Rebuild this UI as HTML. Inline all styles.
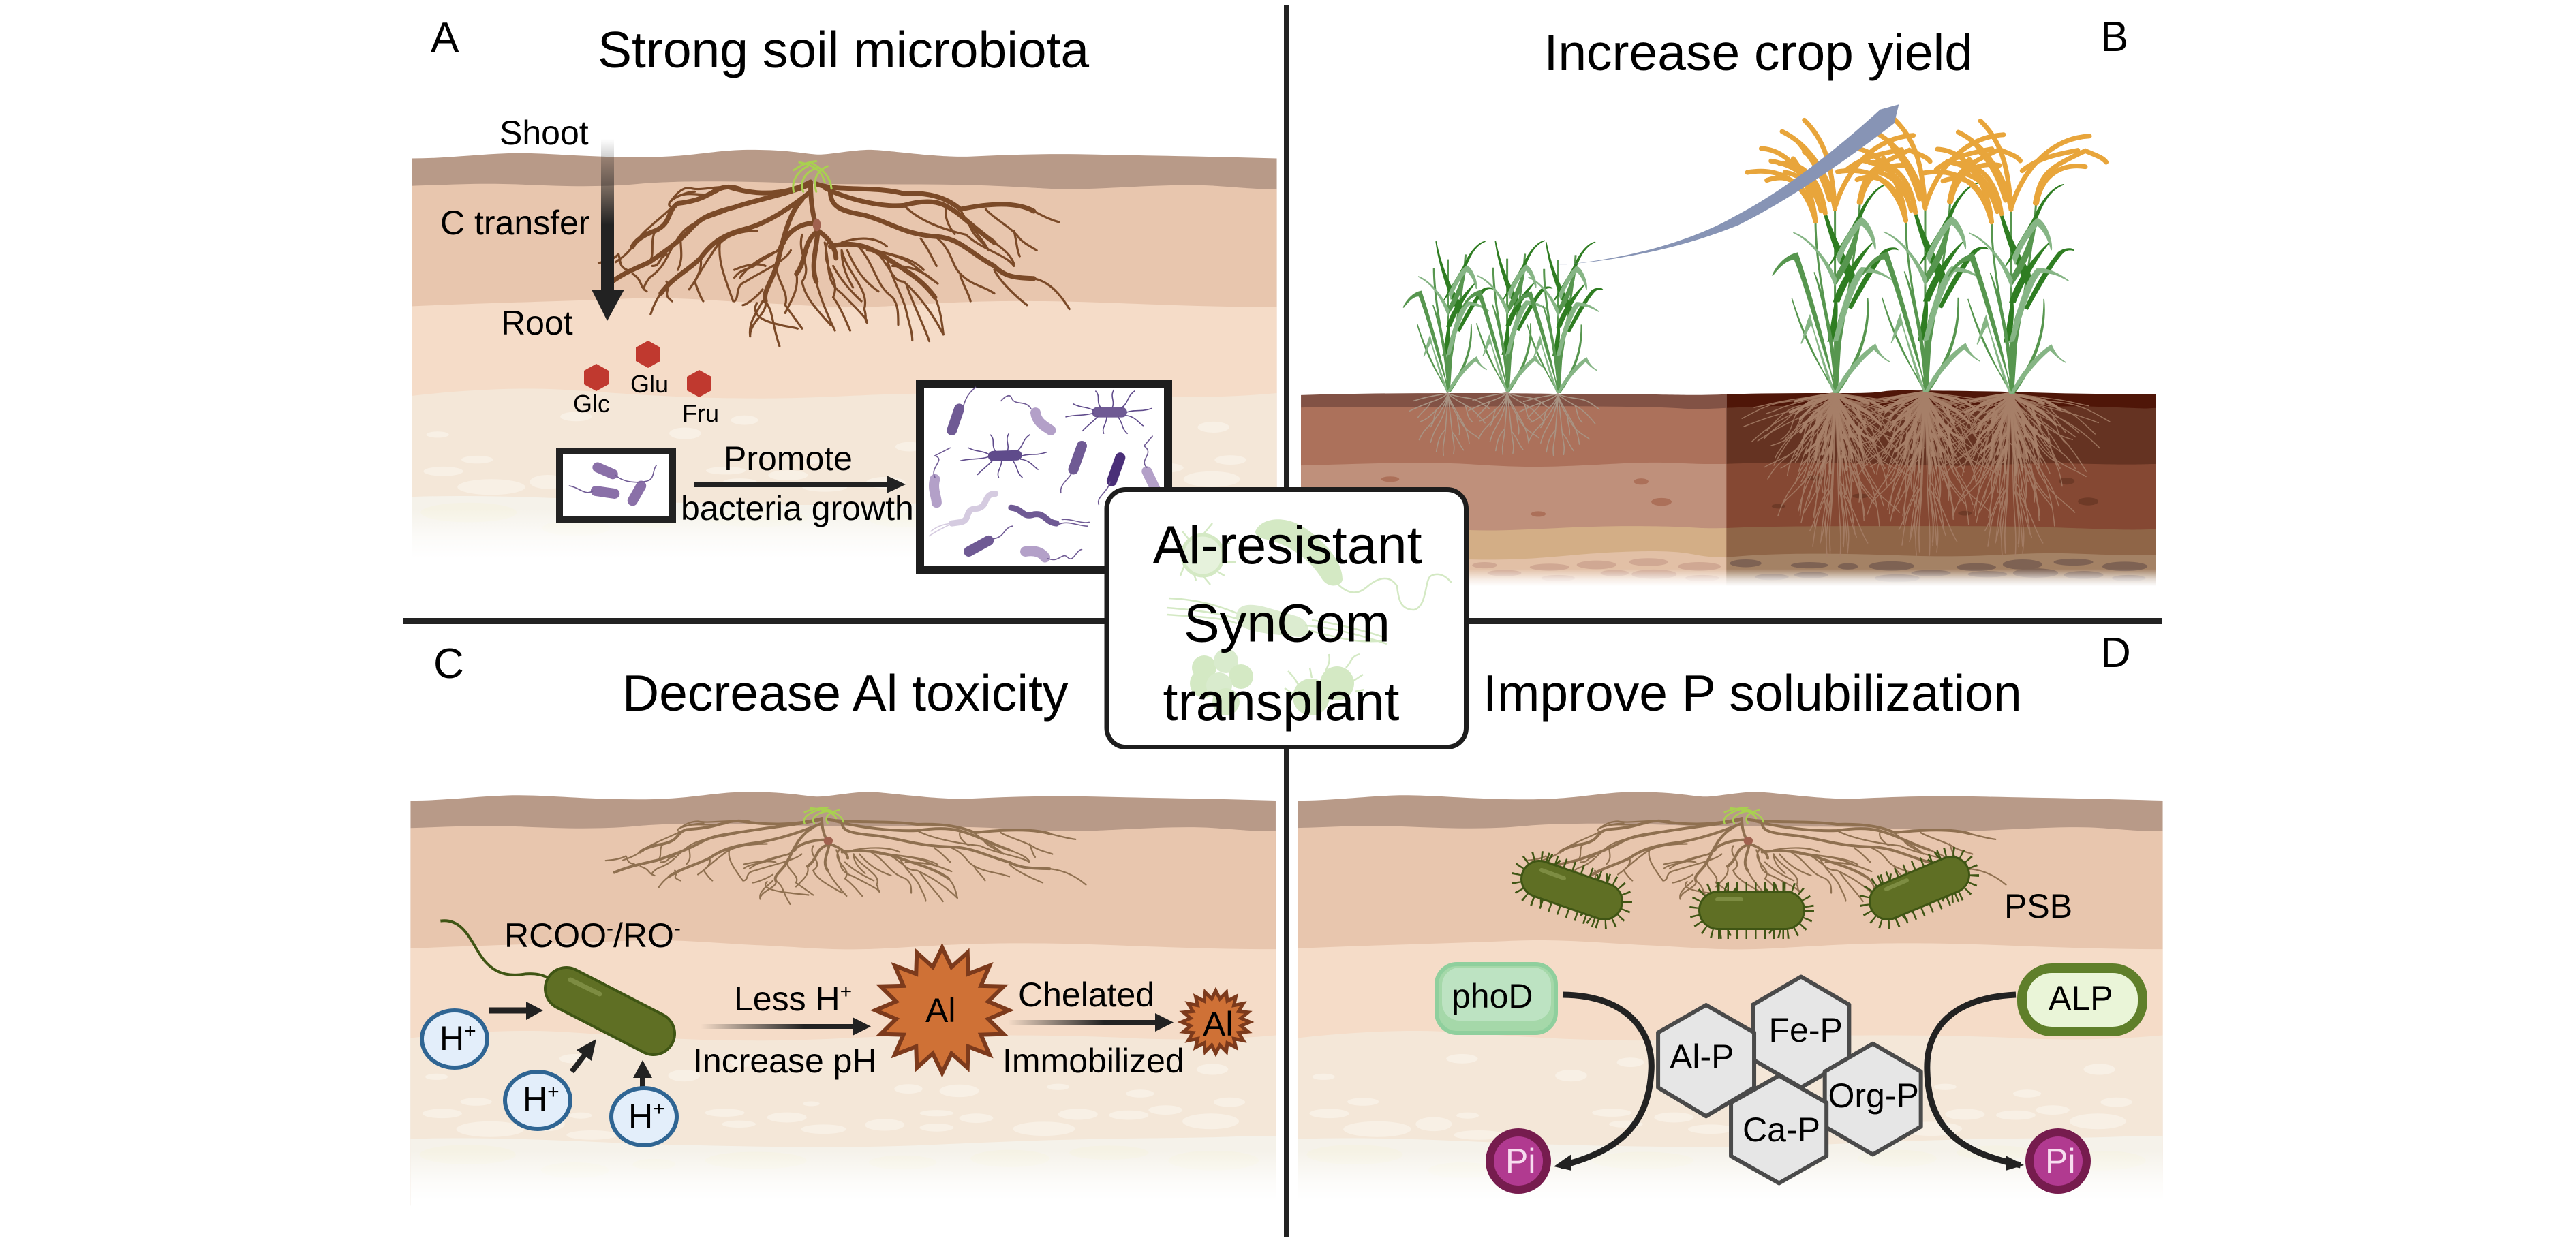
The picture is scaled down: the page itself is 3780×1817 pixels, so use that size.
<!DOCTYPE html>
<html>
<head>
<meta charset="utf-8">
<title>Al-resistant SynCom transplant</title>
<style>
html,body{margin:0;padding:0;background:#fff}
svg{display:block}
svg *{vector-effect:non-scaling-stroke}
text{font-family:"Liberation Sans",sans-serif;fill:#000;vector-effect:none}
.t{font-size:75px}.l{font-size:62px}.m{font-size:50px}.s{font-size:36px}.c{font-size:79px;text-anchor:middle}
</style>
</head>
<body>
<svg width="3780" height="1817" viewBox="0 0 3780 1817" xmlns="http://www.w3.org/2000/svg">
<defs>
<linearGradient id="fade" x1="0" y1="0" x2="0" y2="1"><stop offset="0" stop-color="#fff" stop-opacity="0"/><stop offset=".55" stop-color="#fff" stop-opacity=".72"/><stop offset=".9" stop-color="#fff"/><stop offset="1" stop-color="#fff"/></linearGradient>
<linearGradient id="gC" gradientUnits="userSpaceOnUse" x1="0" y1="204" x2="0" y2="330"><stop offset="0" stop-color="#222" stop-opacity="0"/><stop offset="1" stop-color="#222"/></linearGradient>
<linearGradient id="g1" gradientUnits="userSpaceOnUse" x1="1028" y1="0" x2="1180" y2="0"><stop offset="0" stop-color="#222" stop-opacity="0"/><stop offset="1" stop-color="#222"/></linearGradient>
<linearGradient id="g2" gradientUnits="userSpaceOnUse" x1="1479" y1="0" x2="1620" y2="0"><stop offset="0" stop-color="#222" stop-opacity="0"/><stop offset="1" stop-color="#222"/></linearGradient>
<clipPath id="cl"><rect x="35" y="900" width="753" height="700"/></clipPath>
<clipPath id="cr"><rect x="788" y="900" width="760" height="700"/></clipPath>

<g id="soil">
<path fill="#b89a88" d="M29 405 C90 405 140 395 200 392 S330 402 430 402 S560 383 630 383 S730 395 750 395 S810 383 840 383 S960 404 1020 400 S1150 392 1240 395 S1450 400 1560 405 V1440 H29Z"/>
<path fill="#e8c6ae" d="M29 475 C100 472 150 467 230 472 S370 478 430 470 S600 462 700 468 S950 468 1060 475 S1150 484 1210 483 S1380 468 1450 475 S1530 484 1560 483 V1440 H29Z"/>
<path fill="#f5dcc8" d="M29 783 C150 775 300 770 400 764 S550 768 650 775 S780 790 880 782 S1030 768 1150 770 S1400 785 1560 785 V1440 H29Z"/>
<path fill="#f4e7d8" d="M29 1012 C100 1000 200 990 280 995 S450 1015 600 1018 S800 1008 950 1006 S1200 1005 1300 1012 S1480 1015 1560 1005 V1440 H29Z"/>
<g fill="#f8f0e5">
<ellipse cx="75" cy="1111" rx="20" ry="8"/><ellipse cx="145" cy="1175" rx="28" ry="10"/><ellipse cx="85" cy="1205" rx="35" ry="12"/><ellipse cx="320" cy="1065" rx="28" ry="12"/><ellipse cx="618" cy="1074" rx="24" ry="12"/><ellipse cx="513" cy="1108" rx="28" ry="15"/><ellipse cx="1448" cy="1092" rx="28" ry="14"/><ellipse cx="1478" cy="1176" rx="28" ry="12"/><ellipse cx="1445" cy="1225" rx="50" ry="20"/><ellipse cx="270" cy="1232" rx="32" ry="18"/><ellipse cx="330" cy="1210" rx="20" ry="8"/><ellipse cx="738" cy="1180" rx="15" ry="6"/><ellipse cx="910" cy="1142" rx="25" ry="12"/><ellipse cx="1000" cy="1147" rx="35" ry="16"/><ellipse cx="1175" cy="1137" rx="20" ry="8"/><ellipse cx="1320" cy="1154" rx="25" ry="10"/><ellipse cx="960" cy="1204" rx="30" ry="8"/><ellipse cx="1030" cy="1217" rx="30" ry="12"/><ellipse cx="1210" cy="1207" rx="35" ry="14"/><ellipse cx="1300" cy="1209" rx="35" ry="12"/><ellipse cx="1365" cy="1196" rx="30" ry="12"/><ellipse cx="1150" cy="1244" rx="55" ry="18"/><ellipse cx="868" cy="1234" rx="35" ry="15"/><ellipse cx="960" cy="1241" rx="30" ry="10"/><ellipse cx="585" cy="1203" rx="35" ry="10"/><ellipse cx="695" cy="1215" rx="35" ry="13"/><ellipse cx="610" cy="1232" rx="30" ry="9"/><ellipse cx="760" cy="1245" rx="40" ry="12"/><ellipse cx="170" cy="1245" rx="60" ry="20"/><ellipse cx="350" cy="1260" rx="45" ry="12"/>
</g>
<path fill="#f5f2ea" d="M29 1270 C200 1262 350 1280 500 1285 S800 1295 950 1285 S1200 1270 1350 1268 S1480 1262 1560 1262 V1440 H29Z"/>
<g fill="#f5f2e4">
<ellipse cx="130" cy="1310" rx="85" ry="25"/><ellipse cx="320" cy="1350" rx="60" ry="20"/><ellipse cx="460" cy="1335" rx="38" ry="14"/><ellipse cx="640" cy="1325" rx="90" ry="22"/><ellipse cx="900" cy="1330" rx="60" ry="18"/><ellipse cx="1090" cy="1320" rx="70" ry="22"/><ellipse cx="1265" cy="1305" rx="70" ry="18"/><ellipse cx="1450" cy="1325" rx="80" ry="25"/>
</g>
<rect x="29" y="1300" width="1532" height="141" fill="url(#fade)"/>
</g>

<g id="rootMain" fill="none" stroke-linecap="round">
<path d="M735 465 C690 500 640 500 590 478 C560 480 560 510 500 520 C480 540 490 570 460 590 C440 600 425 615 420 630"/>
<path d="M735 470 C700 495 640 510 600 530 C560 545 540 555 520 590 C500 620 480 640 450 670 C420 690 400 700 375 730"/>
<path d="M735 490 C700 530 660 570 620 585 C580 600 560 620 540 660 C520 690 490 710 470 750"/>
<path d="M735 470 C735 520 740 560 748 590 C770 610 780 640 780 660"/>
<path d="M720 510 C700 540 690 590 680 650 C670 720 650 740 655 770"/>
<path d="M745 570 C710 570 690 600 680 640"/>
<path d="M748 590 C720 620 730 660 710 700"/>
<path d="M748 590 C745 640 735 680 745 720"/>
<path d="M770 630 C810 615 840 630 870 660 C900 690 930 710 955 760"/>
<path d="M770 490 C770 530 790 540 830 550 C880 570 900 600 960 605 C1000 610 1020 650 1060 680 C1080 710 1100 710 1130 712"/>
<path d="M745 470 C780 490 850 475 900 495 C950 490 980 510 1000 535 C1050 520 1100 515 1130 540"/>
<path d="M760 480 C800 510 860 530 900 525 C950 505 970 520 990 540 C1010 560 1030 590 1060 620"/>
</g>
<g id="rootThin" fill="none" stroke-linecap="round">
<path d="M470 750 C460 770 455 790 452 803"/><path d="M575 615 C570 660 580 700 598 770"/><path d="M540 660 C545 690 530 720 520 740"/><path d="M505 610 C505 640 510 660 500 690"/><path d="M490 530 C470 520 510 490 530 490"/><path d="M480 650 C465 660 470 680 455 680"/><path d="M480 720 C490 740 470 750 490 770"/><path d="M420 700 C440 720 430 730 445 745"/><path d="M395 650 C400 670 395 680 410 690"/><path d="M600 478 C560 475 540 490 520 480 C510 480 500 490 490 510"/><path d="M490 530 C460 570 430 600 425 625"/><path d="M460 590 C450 620 460 650 450 670"/>
<path d="M655 770 C660 800 630 820 628 855"/><path d="M680 640 C660 650 630 670 610 710"/><path d="M655 680 C640 670 615 680 600 690"/><path d="M710 700 C715 740 700 770 690 800"/><path d="M745 720 C750 750 760 790 778 845"/><path d="M655 770 C670 800 665 820 680 885"/><path d="M640 775 C630 800 645 820 680 830 C690 835 700 835 712 840"/><path d="M650 740 C640 760 620 780 615 780"/><path d="M760 620 C770 680 760 720 790 750 C810 780 825 800 835 820"/><path d="M775 680 C790 720 810 750 825 770"/><path d="M800 640 C815 690 830 720 855 745"/><path d="M790 640 C790 690 805 720 810 735"/>
<path d="M955 760 C965 790 968 830 970 855"/><path d="M870 660 C880 720 900 760 905 800 C910 830 915 850 915 870"/><path d="M905 730 C920 790 935 830 945 872"/><path d="M830 630 C860 650 910 650 935 690"/><path d="M790 620 C820 605 850 605 870 630"/><path d="M880 680 C910 680 930 690 950 715"/>
<path d="M1130 712 C1160 720 1180 760 1193 790"/><path d="M1130 540 C1150 555 1160 562 1175 568"/><path d="M1060 620 C1080 640 1090 655 1095 675"/><path d="M930 610 C945 640 950 660 958 680"/><path d="M960 610 C985 640 985 680 1000 700 C1020 730 1040 730 1060 750"/><path d="M1000 705 C1005 730 1015 750 1018 770"/><path d="M1060 690 C1070 720 1100 760 1118 780"/><path d="M1045 535 C1060 560 1090 580 1105 610 C1115 625 1125 630 1135 640"/><path d="M975 530 C970 560 985 590 990 598"/><path d="M1015 570 C1020 600 1040 620 1045 630"/><path d="M1095 590 C1100 620 1100 640 1105 655"/>
<path d="M650 770 C640 800 625 820 628 860"/><path d="M690 620 C675 650 650 660 635 680 C620 690 610 690 600 710"/><path d="M700 640 C690 670 640 700 620 720 C600 730 610 760 600 770"/><path d="M680 650 C660 700 700 740 690 780 C700 800 710 820 720 840"/><path d="M720 600 C710 650 740 680 720 720 C725 760 745 790 770 830"/><path d="M765 620 C750 680 790 710 775 760 C790 790 800 830 805 845"/><path d="M790 640 C800 700 840 740 830 790 C835 810 830 820 835 825"/><path d="M820 630 C850 680 850 730 880 760 C890 780 890 800 890 830"/><path d="M850 640 C880 690 880 720 900 720 C930 760 950 800 970 855"/><path d="M880 680 C930 680 945 710 960 725"/><path d="M835 640 C900 650 920 680 935 700"/><path d="M600 530 C560 560 520 560 500 610 C480 650 480 680 450 710 C445 720 440 730 440 740"/><path d="M575 615 C560 650 545 680 530 720 C535 740 540 760 545 770"/><path d="M640 590 C600 590 575 610 560 650"/><path d="M900 525 C930 570 980 590 1010 600 C1040 640 1080 650 1095 680"/><path d="M1000 535 C1010 570 1035 600 1050 640"/><path d="M610 480 C590 470 580 475 570 490 C540 510 520 480 490 510"/><path d="M395 650 C385 665 370 670 360 672"/><path d="M420 630 C410 650 400 660 390 670"/>
</g>
<g id="crown" fill="none" stroke="#a9d050" stroke-linecap="round">
<path d="M705 490 C700 460 715 435 730 425"/><path d="M722 490 C715 465 725 440 745 430"/><path d="M745 490 C740 465 742 440 765 425"/><path d="M772 482 C770 455 760 435 735 415"/><path d="M705 435 C720 420 730 415 745 412"/><path d="M760 465 C755 445 750 425 715 415"/>
</g>

<g id="blades">
<g fill="none" stroke="#57964f" stroke-width="3">
<path d="M0,0 L0,-810"/><path d="M-15,-250 C-40,-400 -70,-600 -70,-755"/><path d="M10,-150 C40,-400 80,-650 90,-840"/>
</g>
<g fill="#2f7d22" stroke="#2f7d22" stroke-width="1.5">
<path d="M-60,-920 C-40,-800 0,-660 65,-540 C80,-480 70,-460 55,-480 C0,-600 -45,-780 -60,-920Z"/>
<path d="M190,-920 C140,-900 110,-830 90,-760 C60,-700 30,-640 -20,-560 C20,-650 60,-720 85,-780 C110,-850 150,-910 190,-920Z"/>
<path d="M50,-375 C90,-480 130,-560 170,-620 C190,-640 220,-640 225,-630 C190,-640 180,-610 155,-570 C120,-500 85,-430 60,-370Z"/>
<path d="M-25,-225 C-10,-300 -5,-380 5,-420 C10,-380 10,-300 -5,-230Z"/>
<path d="M-5,-400 C20,-500 80,-600 135,-660 C90,-590 40,-480 15,-400Z"/>
</g>
<g fill="#57964f" stroke="#57964f" stroke-width="1.5">
<path d="M0,0 C-30,-200 -90,-450 -135,-615 C-175,-605 -210,-560 -225,-515 C-200,-555 -170,-590 -145,-585 C-100,-450 -50,-200 10,0Z"/>
<path d="M0,0 C-60,-120 -120,-280 -155,-415 C-120,-260 -70,-130 8,0Z"/>
<path d="M0,0 C60,-110 120,-220 118,-415 C130,-280 90,-130 12,0Z"/>
<path d="M0,0 C-10,-200 -40,-400 -75,-530 C-30,-400 0,-200 10,0Z"/>
<path d="M-3,0 C-3,-200 0,-300 30,-380 C20,-250 15,-100 8,0Z"/>
<path d="M-5,-500 C30,-570 60,-640 90,-770 C85,-640 50,-560 5,-480Z"/>
</g>
<g fill="#86b585" stroke="#86b585" stroke-width="1.5">
<path d="M0,0 C30,-80 90,-170 145,-212 C160,-170 175,-150 197,-135 C170,-150 150,-180 140,-190 C90,-140 40,-60 8,0Z"/>
<path d="M-5,0 C-40,-100 -70,-240 -90,-340 C-105,-300 -110,-250 -122,-215 C-105,-250 -100,-280 -85,-300 C-55,-200 -30,-90 0,0Z"/>
<path d="M-5,-225 C20,-350 50,-500 95,-550 C140,-550 180,-520 207,-495 C170,-520 140,-535 105,-530 C70,-480 40,-350 10,-230Z"/>
<path d="M5,-500 C-30,-590 -90,-680 -150,-705 C-90,-670 -40,-600 0,-470Z"/>
<path d="M5,-600 C40,-690 70,-750 95,-770 C120,-760 150,-680 145,-630 C135,-680 115,-720 95,-740 C70,-700 40,-660 15,-570Z"/>
</g>
</g>
<g id="panicle" fill="none" stroke="#e8a53b" stroke-width="7" stroke-linecap="round">
<path d="M-70,-755 C-90,-880 -145,-980 -245,-935"/>
<path d="M-70,-755 C-100,-900 -175,-1000 -315,-970"/>
<path d="M-70,-755 C-85,-940 -165,-1070 -265,-1075"/>
<path d="M0,-810 C-25,-980 -105,-1100 -190,-1150"/>
<path d="M0,-810 C-10,-1000 -35,-1110 -110,-1200"/>
<path d="M-35,-790 C-50,-930 -110,-1020 -200,-1010"/>
<path d="M-70,-755 C-85,-850 -100,-950 -150,-1030"/>
<path d="M0,-810 C-10,-900 -50,-1010 -110,-1060"/>
<path d="M-20,-850 C-40,-940 -70,-1010 -130,-1100"/>
<path d="M-50,-800 C-70,-900 -120,-960 -180,-970"/>
<path d="M-60,-850 C-80,-930 -130,-1000 -230,-1020"/>
<path d="M2,-823 C42,-983 142,-1123 282,-1133"/>
<path d="M87,-838 C107,-973 137,-993 267,-1068 C300,-1050 330,-1040 342,-1018"/>
<path d="M92,-838 C112,-973 192,-1013 267,-998"/>
<path d="M40,-980 C90,-1030 150,-1050 240,-1070"/>
</g>
<g id="fan" fill="none" stroke-linecap="round">
<path d="M0,0 C-5,25 -20,45 -40,65 S-70,100 -95,110"/><path d="M0,0 C-12,15 -35,25 -60,35 S-100,50 -135,70"/><path d="M0,0 C-3,30 -8,70 -25,105 S-50,150 -60,190"/><path d="M0,0 C0,40 -5,90 -8,140 S-20,200 -15,240"/><path d="M0,0 C5,40 10,100 15,150 S25,200 20,235"/><path d="M0,0 C5,25 20,50 35,80 S70,140 75,195"/><path d="M0,0 C12,15 35,30 60,45 S105,80 130,115"/><path d="M0,0 C15,10 45,15 75,20 S120,40 145,60"/><path d="M0,0 C-2,35 -25,70 -45,100 S-85,140 -100,180"/><path d="M0,0 C3,35 25,70 45,110 S95,160 110,175"/><path d="M0,0 C-15,5 -40,8 -70,15 S-100,25 -120,30"/><path d="M-40,65 C-50,85 -45,110 -60,130"/><path d="M35,80 C30,110 45,130 40,160"/><path d="M60,45 C70,70 65,90 85,110"/><path d="M-60,35 C-70,60 -90,70 -105,95"/><path d="M-8,140 C-30,165 -35,190 -40,225"/><path d="M15,150 C35,175 40,200 55,220"/>
</g>

<g id="peri" fill="none" stroke="#5f4b8b" stroke-width="1.6">
<path d="M-15,-10 C-25,-30 -15,-40 -25,-55"/><path d="M5,-12 C10,-30 0,-40 8,-58"/><path d="M20,-10 C35,-25 30,-40 45,-55"/><path d="M30,0 C45,-8 55,0 75,-10"/><path d="M28,8 C45,10 50,25 60,35"/><path d="M15,12 C25,30 20,40 32,55"/><path d="M-5,12 C-5,30 -15,40 -10,55"/><path d="M-20,10 C-30,25 -40,35 -48,48"/><path d="M-28,2 C-45,10 -60,5 -78,12"/><path d="M-28,-5 C-40,-15 -50,-10 -65,-22"/>
</g>
<polygon id="s16" points="100,0 69,14 92,38 58,39 71,71 39,58 38,92 14,69 0,100 -14,69 -38,92 -39,58 -71,71 -58,39 -92,38 -69,14 -100,0 -69,-14 -92,-38 -58,-39 -71,-71 -39,-58 -38,-92 -14,-69 0,-100 14,-69 38,-92 39,-58 71,-71 58,-39 92,-38 69,-14"/>
<polygon id="s20" points="100,0 74,12 95,31 67,34 81,59 53,53 59,81 34,67 31,95 12,74 0,100 -12,74 -31,95 -34,67 -59,81 -53,53 -81,59 -67,34 -95,31 -74,12 -100,0 -74,-12 -95,-31 -67,-34 -81,-59 -53,-53 -59,-81 -34,-67 -31,-95 -12,-74 0,-100 12,-74 31,-95 34,-67 59,-81 53,-53 81,-59 67,-34 95,-31 74,-12"/>
</defs>

<!-- soils -->
<use href="#soil" transform="translate(580,0) scale(.8292,.5741)"/>
<use href="#soil" transform="translate(578.4,942.5) scale(.8292,.5741)"/>
<use href="#soil" transform="translate(1880,942.5) scale(.8292,.5741)"/>

<!-- roots -->
<g transform="translate(580,0) scale(.8292,.5741)">
<use href="#rootMain" stroke="#7b4a28" stroke-width="7"/>
<use href="#rootThin" stroke="#7b4a28" stroke-width="3.2"/>
<use href="#crown" stroke-width="3"/>
<ellipse cx="746" cy="575" rx="7" ry="16" fill="#a0614f"/>
</g>
<g transform="translate(1206,1198) scale(.846,.30) translate(-735,-455)">
<use href="#rootMain" stroke="#8f7050" stroke-width="4"/>
<use href="#rootThin" stroke="#8f7050" stroke-width="2.2"/>
<use href="#crown" stroke-width="2.5"/>
<ellipse cx="746" cy="575" rx="8" ry="20" fill="#a0614f"/>
</g>
<g transform="translate(2556,1198) scale(.846,.30) translate(-735,-455)">
<use href="#rootMain" stroke="#8f7050" stroke-width="4"/>
<use href="#rootThin" stroke="#8f7050" stroke-width="2.2"/>
<use href="#crown" stroke-width="2.5"/>
<ellipse cx="746" cy="575" rx="8" ry="20" fill="#a0614f"/>
</g>

<!-- Panel A -->
<rect x="882" y="204" width="19" height="221" fill="url(#gC)"/>
<polygon points="868,425 916,425 891,471" fill="#222"/>
<g fill="#c0392f">
<polygon points="875,534 893,544 893,564 875,574 857,564 857,544"/>
<polygon points="951,500 969,510 969,530 951,540 933,530 933,510"/>
<polygon points="1026,543 1044,553 1044,573 1026,583 1008,573 1008,553"/>
</g>
<rect x="821" y="662" width="166" height="100" fill="#fff" stroke="#222" stroke-width="10"/>
<rect x="1350" y="563" width="364" height="273" fill="#fff" stroke="#1d1d1d" stroke-width="12"/>
<rect x="1018" y="707" width="284" height="8" fill="#222"/>
<polygon points="1301,698 1301,724 1329,711" fill="#222"/>
<g transform="translate(580,0) scale(.8292,.5741)" fill="none" stroke-linecap="round">
<g stroke-width="15">
<path stroke="#8a70a8" d="M358,1195 L385,1212"/><path stroke="#8a70a8" d="M355,1255 L388,1262"/><path stroke="#8a70a8" d="M420,1280 L435,1242"/>
<path stroke="#6f5a94" d="M998,1045 L985,1100"/><path stroke="#b3a0c8" d="M1133,1055 C1135,1080 1150,1090 1160,1100"/><path stroke="#6f5a94" d="M1242,1054 L1286,1054"/><path stroke="#5f4b8b" d="M1058,1166 L1100,1164"/><path stroke="#6f5a94" d="M1215,1140 L1200,1200"/><path stroke="#4a2f78" d="M1283,1170 L1268,1230"/><path stroke="#b3a0c8" d="M1330,1205 L1345,1250"/><path stroke="#b3a0c8" d="M955,1225 C950,1250 958,1270 958,1285"/><path stroke="#6f5a94" d="M1015,1410 L1050,1382"/><path stroke="#b3a0c8" d="M1115,1410 C1135,1405 1145,1415 1150,1425"/>
</g>
<path stroke="#d5cbe0" stroke-width="9" d="M1062,1262 C1040,1262 1050,1295 1030,1300 C1005,1300 1020,1330 1000,1335 L985,1338"/>
<path stroke="#6f5a94" stroke-width="9" d="M1090,1298 C1110,1300 1110,1325 1130,1315 C1150,1310 1150,1335 1170,1338"/>
<g stroke-width="1.6" stroke="#6f5a94">
<path d="M390,1215 C405,1235 430,1235 445,1230 C460,1225 455,1200 462,1190"/><path d="M350,1255 C335,1268 325,1245 308,1242"/>
<path d="M1005,1040 C1010,1015 1015,1005 1027,990"/><path d="M1125,1045 C1115,1020 1095,1040 1090,1015 C1085,1005 1075,1020 1072,1025"/><path d="M1200,1200 C1195,1225 1175,1235 1178,1260"/><path d="M1265,1232 C1260,1260 1240,1270 1245,1290"/><path d="M1330,1195 C1315,1175 1345,1160 1325,1140 L1340,1115"/><path d="M955,1220 C945,1195 975,1175 955,1165 L982,1145"/><path d="M1175,1340 C1190,1330 1210,1345 1225,1345"/><path d="M1180,1328 C1195,1325 1215,1340 1228,1335"/><path d="M1055,1378 C1080,1375 1075,1350 1092,1345"/><path d="M1155,1428 C1175,1440 1180,1410 1190,1425 C1200,1440 1205,1405 1215,1405"/>
</g>
<g stroke="#d5cbe0" stroke-width="1.6"><path d="M985,1338 C970,1350 960,1355 945,1370"/><path d="M985,1338 C965,1340 955,1350 948,1358"/></g>
</g>
<g transform="translate(580,0) scale(.8292,.5741)">
<use href="#peri" transform="translate(1264,1054)"/><use href="#peri" transform="translate(1078,1166)"/>
</g>

<text class="t" x="877" y="99">Strong soil microbiota</text>
<text class="l" x="632" y="76">A</text>
<text class="m" x="733" y="212">Shoot</text>
<text class="m" x="646" y="344">C transfer</text>
<text class="m" x="735" y="491">Root</text>
<text class="s" x="841" y="605">Glc</text>
<text class="s" x="925" y="576">Glu</text>
<text class="s" x="1001" y="619">Fru</text>
<text class="m" x="1062" y="690">Promote</text>
<text class="m" x="999" y="763">bacteria growth</text>

<!-- Panel B -->
<g transform="translate(1880,0) scale(.8292,.5741)">
<g id="soilB">
<g clip-path="url(#cl)">
<path fill="#825245" d="M35 1010 C150 1005 250 1005 350 1005 S500 1008 600 1008 S720 1012 788 1008 V1500 H35Z"/>
<path fill="#ac715b" d="M35 1042 C100 1038 200 1042 300 1040 S500 1038 620 1040 S700 1050 788 1043 V1500 H35Z"/>
<path fill="#bf907b" d="M35 1190 C150 1186 250 1178 350 1188 S500 1192 600 1185 S700 1188 788 1186 V1500 H35Z"/>
<path fill="#d3ae86" d="M35 1355 C150 1350 250 1350 330 1355 S500 1345 620 1345 S720 1352 788 1350 V1500 H35Z"/>
<path fill="#e2c0a6" d="M35 1428 C120 1425 200 1425 330 1430 S500 1415 620 1410 S720 1425 788 1425 V1500 H35Z"/>
<g fill="#ac7059"><ellipse cx="193" cy="1225" rx="16" ry="7"/><ellipse cx="637" cy="1231" rx="13" ry="8"/><ellipse cx="673" cy="1283" rx="18" ry="10"/><ellipse cx="455" cy="1314" rx="13" ry="7"/></g>
<g fill="#d0a893"><ellipse cx="360" cy="1445" rx="22" ry="8"/><ellipse cx="475" cy="1450" rx="35" ry="9"/><ellipse cx="558" cy="1444" rx="35" ry="11"/><ellipse cx="650" cy="1437" rx="35" ry="10"/><ellipse cx="740" cy="1448" rx="38" ry="11"/><ellipse cx="395" cy="1465" rx="30" ry="8"/><ellipse cx="590" cy="1465" rx="25" ry="8"/><ellipse cx="660" cy="1468" rx="40" ry="12"/><ellipse cx="490" cy="1478" rx="30" ry="8"/><ellipse cx="745" cy="1478" rx="30" ry="8"/></g>
</g>
<g clip-path="url(#cr)">
<path fill="#4f1608" d="M788 1008 C850 1005 920 1005 1000 1005 S1050 998 1100 998 S1250 1000 1320 1003 S1450 1008 1548 1007 V1500 H788Z"/>
<path fill="#653322" d="M788 1043 C900 1035 1000 1035 1150 1042 S1350 1035 1450 1040 S1520 1045 1548 1043 V1500 H788Z"/>
<path fill="#854833" d="M788 1186 C850 1182 950 1180 1100 1188 S1300 1182 1400 1185 S1500 1188 1548 1186 V1500 H788Z"/>
<path fill="#8f6547" d="M788 1350 C850 1345 950 1345 1100 1345 S1300 1345 1400 1350 S1500 1355 1548 1353 V1500 H788Z"/>
<path fill="#a48265" d="M788 1425 C850 1415 950 1412 1100 1420 S1300 1410 1400 1415 S1500 1420 1548 1418 V1500 H788Z"/>
<g fill="#6e3a27"><ellipse cx="945" cy="1222" rx="16" ry="7"/><ellipse cx="880" cy="1294" rx="12" ry="6"/><ellipse cx="1025" cy="1268" rx="14" ry="6"/><ellipse cx="1210" cy="1312" rx="12" ry="6"/><ellipse cx="1390" cy="1230" rx="14" ry="9"/><ellipse cx="1428" cy="1282" rx="18" ry="10"/></g>
<g fill="#7e6253"><ellipse cx="822" cy="1440" rx="28" ry="10"/><ellipse cx="935" cy="1445" rx="33" ry="8"/><ellipse cx="1003" cy="1448" rx="18" ry="8"/><ellipse cx="1080" cy="1447" rx="40" ry="12"/><ellipse cx="1230" cy="1450" rx="35" ry="10"/><ellipse cx="1312" cy="1443" rx="35" ry="13"/><ellipse cx="1402" cy="1437" rx="35" ry="9"/><ellipse cx="1493" cy="1448" rx="40" ry="12"/><ellipse cx="868" cy="1475" rx="30" ry="8"/><ellipse cx="938" cy="1470" rx="30" ry="8"/><ellipse cx="1150" cy="1465" rx="35" ry="8"/><ellipse cx="1250" cy="1468" rx="35" ry="8"/><ellipse cx="1335" cy="1465" rx="40" ry="12"/><ellipse cx="1090" cy="1478" rx="40" ry="10"/><ellipse cx="1420" cy="1470" rx="35" ry="10"/><ellipse cx="1500" cy="1478" rx="30" ry="8"/></g>
</g>
</g>
</g>
<!-- small plant roots -->
<g stroke="#a89484" stroke-width="1.6">
<use href="#fan" transform="translate(2124.5,577) scale(.42,.38)"/>
<use href="#fan" transform="translate(2211.6,576) scale(.42,.38)"/>
<use href="#fan" transform="translate(2286,578) scale(.42,.38)"/>
</g>
<!-- big plant roots -->
<g stroke="#a67f68" stroke-width="1.5" opacity=".85">
<use href="#fan" transform="translate(2694,577) scale(.85,1)"/><use href="#fan" transform="translate(2694,577) scale(-.7,.92)"/><use href="#fan" transform="translate(2694,577) scale(.55,.96)"/><use href="#fan" transform="translate(2694,577) scale(-.42,1)"/><use href="#fan" transform="translate(2694,577) scale(1,.7)"/><use href="#fan" transform="translate(2694,577) scale(-.95,.62)"/>
<use href="#fan" transform="translate(2825,575) scale(.85,1)"/><use href="#fan" transform="translate(2825,575) scale(-.7,.92)"/><use href="#fan" transform="translate(2825,575) scale(.55,.96)"/><use href="#fan" transform="translate(2825,575) scale(-.42,1)"/><use href="#fan" transform="translate(2825,575) scale(1,.7)"/><use href="#fan" transform="translate(2825,575) scale(-.95,.62)"/>
<use href="#fan" transform="translate(2951,577) scale(.85,1)"/><use href="#fan" transform="translate(2951,577) scale(-.7,.92)"/><use href="#fan" transform="translate(2951,577) scale(.55,.96)"/><use href="#fan" transform="translate(2951,577) scale(-.42,1)"/><use href="#fan" transform="translate(2951,577) scale(1,.7)"/><use href="#fan" transform="translate(2951,577) scale(-.95,.62)"/>
</g>
<g stroke="#a67f68" stroke-width="3.5">
<use href="#fan" transform="translate(2694,577) scale(.5,.4)"/><use href="#fan" transform="translate(2694,577) scale(-.4,.5)"/>
<use href="#fan" transform="translate(2825,575) scale(.5,.4)"/><use href="#fan" transform="translate(2825,575) scale(-.4,.5)"/>
<use href="#fan" transform="translate(2951,577) scale(.5,.4)"/><use href="#fan" transform="translate(2951,577) scale(-.4,.5)"/>
</g>
<rect x="1909" y="835" width="1255" height="28" fill="url(#fade)"/>
<!-- small plants -->
<use href="#blades" transform="translate(2124.5,575) scale(.29,.24)"/>
<use href="#blades" transform="translate(2211.6,574) scale(.29,.24)"/>
<use href="#blades" transform="translate(2286,576) scale(.29,.24)"/>
<!-- large plants -->
<g transform="translate(2692.6,576) scale(.408,.333)"><use href="#blades"/><use href="#panicle"/></g>
<g transform="translate(2825,575) scale(.408,.333)"><use href="#blades"/><use href="#panicle"/></g>
<g transform="translate(2951,577) scale(.408,.333)"><use href="#blades"/><use href="#panicle"/></g>
<g transform="translate(1880,0) scale(.8292,.5741)">
<path fill="#8794b5" d="M470 680 C600 668 720 620 800 555 C900 480 1000 360 1060 280 L1093 267 L1085 315 C1000 410 900 510 810 575 C700 640 580 670 470 680Z"/>
</g>
<text class="t" x="2265.5" y="103">Increase crop yield</text>
<text class="l" x="3082" y="75">B</text>

<!-- Panel C -->
<g transform="translate(580,900) scale(.8292,.585)" fill="none">
<path stroke="#3f5514" stroke-width="4" d="M80 772 C115 765 130 810 145 845 C165 895 190 915 230 905 C250 903 262 908 272 916"/>
</g>
<line x1="831" y1="1451" x2="959" y2="1517" stroke="#3f5514" stroke-width="66" stroke-linecap="round"/>
<line x1="831" y1="1451" x2="959" y2="1517" stroke="#5f6f24" stroke-width="58" stroke-linecap="round"/>
<line x1="837" y1="1438" x2="880" y2="1459" stroke="#7d8c42" stroke-width="7" stroke-linecap="round"/>
<g stroke="#222" fill="#222">
<line x1="717" y1="1483" x2="775" y2="1483" stroke-width="9"/><polygon stroke="none" points="772,1470 772,1497 797,1483"/>
<line x1="839" y1="1573" x2="862" y2="1543" stroke-width="8"/><polygon stroke="none" points="875,1525 868,1557 846,1541"/>
<line x1="943" y1="1597" x2="943" y2="1575" stroke-width="8"/><polygon stroke="none" points="929,1582 957,1582 943,1556"/>
</g>
<g fill="#e3eefa" stroke="#2f6593" stroke-width="6">
<ellipse cx="667" cy="1525" rx="48" ry="42"/>
<ellipse cx="789" cy="1615" rx="48" ry="42"/>
<ellipse cx="945" cy="1639" rx="48" ry="42"/>
</g>
<rect x="1028" y="1503" width="226" height="7" fill="url(#g1)"/>
<polygon points="1251,1493 1251,1520 1278,1506.5" fill="#222"/>
<rect x="1479" y="1497" width="218" height="7" fill="url(#g2)"/>
<polygon points="1695,1487 1695,1514 1722,1500.5" fill="#222"/>
<use href="#s16" transform="translate(1382.5,1482.7) scale(.98,.92)" fill="#cf7136" stroke="#7c3a1c" stroke-width="6"/>
<use href="#s20" transform="translate(1784,1500) scale(.5,.46)" fill="#cf7136" stroke="#7c3a1c" stroke-width="5"/>
<text class="t" x="913" y="1043">Decrease Al toxicity</text>
<text class="l" x="636" y="995">C</text>
<text class="m" x="740" y="1390">RCOO<tspan dy="-18" font-size="30">-</tspan><tspan dy="18">/RO</tspan><tspan dy="-18" font-size="30">-</tspan></text>
<text class="m" x="645" y="1541">H<tspan dy="-18" font-size="30">+</tspan></text>
<text class="m" x="767" y="1630">H<tspan dy="-18" font-size="30">+</tspan></text>
<text class="m" x="922" y="1655">H<tspan dy="-18" font-size="30">+</tspan></text>
<text class="m" x="1077" y="1483">Less H<tspan dy="-18" font-size="30">+</tspan></text>
<text class="m" x="1017" y="1574">Increase pH</text>
<text class="m" x="1494" y="1477">Chelated</text>
<text class="m" x="1471" y="1574">Immobilized</text>
<text class="m" x="1358" y="1500">Al</text>
<text class="m" x="1765" y="1520">Al</text>

<!-- Panel D rods -->
<g fill="none" stroke="#3f5514">
<line x1="2259" y1="1290" x2="2354" y2="1323" stroke-width="82" stroke-dasharray="2.5 11"/>
<line x1="2521" y1="1336" x2="2620" y2="1336" stroke-width="84" stroke-dasharray="2.5 11"/>
<line x1="2770" y1="1323" x2="2863" y2="1284" stroke-width="82" stroke-dasharray="2.5 11"/>
<g stroke-width="14" stroke-dasharray="2.5 10">
<circle cx="2259" cy="1290" r="34"/><circle cx="2354" cy="1323" r="34"/><circle cx="2521" cy="1336" r="35"/><circle cx="2620" cy="1336" r="35"/><circle cx="2770" cy="1323" r="34"/><circle cx="2863" cy="1284" r="34"/>
</g>
</g>
<g stroke-linecap="round">
<line x1="2259" y1="1290" x2="2354" y2="1323" stroke="#3f5514" stroke-width="56"/><line x1="2259" y1="1290" x2="2354" y2="1323" stroke="#5f6f24" stroke-width="50"/><line x1="2262" y1="1277" x2="2295" y2="1289" stroke="#7d8c42" stroke-width="6"/>
<line x1="2521" y1="1336" x2="2620" y2="1336" stroke="#3f5514" stroke-width="58"/><line x1="2521" y1="1336" x2="2620" y2="1336" stroke="#5f6f24" stroke-width="52"/><line x1="2520" y1="1320" x2="2555" y2="1320" stroke="#7d8c42" stroke-width="6"/>
<line x1="2770" y1="1323" x2="2863" y2="1284" stroke="#3f5514" stroke-width="56"/><line x1="2770" y1="1323" x2="2863" y2="1284" stroke="#5f6f24" stroke-width="50"/><line x1="2768" y1="1305" x2="2798" y2="1292" stroke="#7d8c42" stroke-width="6"/>
</g>
<rect x="2108" y="1415" width="175" height="101" rx="30" fill="#a5d8a9" stroke="#8fcf9d" stroke-width="6"/>
<rect x="2116" y="1420" width="160" height="78" rx="26" fill="#bde3c2"/>
<rect x="2967" y="1421" width="177" height="93" rx="44" fill="#eaf5d8" stroke="#5f7f2a" stroke-width="14"/>
<g fill="none" stroke="#222" stroke-width="9">
<path d="M2293 1460 C2394 1461 2427 1520 2423 1573 C2419 1649 2377 1690 2290 1711"/>
<path d="M2958 1460 C2867 1464 2825 1508 2828 1573 C2830 1649 2867 1690 2965 1710"/>
</g>
<polygon points="2280,1712 2306,1694 2306,1718" fill="#222"/>
<polygon points="2970,1710 2943,1696 2943,1718" fill="#222"/>
<g fill="#761c4e"><ellipse cx="2228" cy="1704" rx="48" ry="48"/><ellipse cx="3020" cy="1704" rx="48" ry="48"/></g>
<g fill="#b13a90"><ellipse cx="2228" cy="1704" rx="36" ry="36"/><ellipse cx="3020" cy="1704" rx="36" ry="36"/></g>
<g transform="translate(1880,900) scale(.8292,.585)" fill="#e6e6e6" stroke="#4a4a4a" stroke-width="6" stroke-linejoin="round">
<polygon points="920,912 1005,982 1005,1120 920,1190 835,1120 835,982"/>
<polygon points="1047,1080 1132,1150 1132,1288 1047,1358 962,1288 962,1150"/>
<polygon points="752,983 837,1052 837,1190 752,1262 667,1190 667,1052"/>
<polygon points="881,1160 965,1228 965,1362 881,1430 796,1362 796,1228"/>
</g>
<text class="t" x="2176" y="1043">Improve P solubilization</text>
<text class="l" x="3082" y="979">D</text>
<text class="m" x="2941" y="1347">PSB</text>
<text class="m" x="2130" y="1479">phoD</text>
<text class="m" x="3006" y="1482">ALP</text>
<text class="m" x="2209" y="1721" style="fill:#f7dcef">Pi</text>
<text class="m" x="3001" y="1721" style="fill:#f7dcef">Pi</text>
<text class="m" x="2450" y="1568">Al-P</text>
<text class="m" x="2595.5" y="1529">Fe-P</text>
<text class="m" x="2682.5" y="1625">Org-P</text>
<text class="m" x="2557" y="1675">Ca-P</text>

<!-- dividers -->
<rect x="1884" y="8" width="8" height="1808" fill="#222"/>
<rect x="592" y="907" width="2581" height="9" fill="#222"/>

<!-- centre box -->
<rect x="1624" y="718.5" width="527.5" height="378" rx="28" fill="#fff" stroke="#1d1d1d" stroke-width="7"/>
<g fill="#d4e9c4">
<circle cx="1765" cy="815" r="30" fill="#e6f2dc" stroke="#d4e9c4" stroke-width="5"/>
<g stroke="#d4e9c4" stroke-width="2.5"><line x1="1765" y1="785" x2="1779" y2="768"/><line x1="1745" y1="792" x2="1735" y2="780"/><line x1="1792" y1="800" x2="1805" y2="797"/><line x1="1794" y1="825" x2="1813" y2="825"/><line x1="1785" y1="838" x2="1797" y2="845"/><line x1="1765" y1="845" x2="1776" y2="858"/><line x1="1752" y1="842" x2="1755" y2="852"/><line x1="1738" y1="830" x2="1732" y2="845"/></g>
<path d="M1842 780 C1850 760 1885 755 1915 775 C1945 795 1970 825 1970 850 C1970 860 1950 865 1940 850 C1925 825 1900 805 1870 795 C1855 790 1842 790 1842 780Z"/>
<path d="M1814 905 C1815 885 1835 885 1860 892 L1905 905 C1925 915 1925 935 1905 935 L1860 930 C1830 925 1815 920 1814 905Z" fill="#dcecd0"/>
<circle cx="1767" cy="980" r="18"/><circle cx="1799" cy="970" r="18" fill="#d9ebcd"/><circle cx="1821" cy="993" r="18"/><circle cx="1767" cy="1003" r="21"/><circle cx="1789" cy="1006" r="19" fill="#d9ebcd"/><circle cx="1799" cy="1030" r="20"/>
<circle cx="1962" cy="1003" r="25"/><circle cx="1924" cy="1023" r="27"/>
</g>
<g fill="none" stroke="#d4e9c4" stroke-width="2.5">
<path d="M1961 855 C1975 870 1990 875 2005 862 C2025 845 2040 845 2050 860 C2052 880 2055 895 2075 895 C2095 890 2090 850 2100 845 C2115 838 2125 850 2130 855"/>
<path d="M1815 900 C1790 890 1760 880 1715 878"/><path d="M1815 908 C1790 900 1750 895 1712 892"/><path d="M1815 915 C1790 905 1750 905 1712 902"/>
<path d="M1915 918 C1950 920 1990 930 2035 945"/><path d="M1920 925 C1960 935 1990 945 2032 940"/><path d="M1925 910 C1960 915 2000 925 2030 935"/>
<path d="M1945 985 C1950 975 1952 970 1950 960"/><path d="M1975 980 C1985 970 1980 965 1995 960"/><path d="M1985 1000 L2000 990"/><path d="M1988 1015 L2002 1012"/><path d="M1905 1005 C1900 995 1895 990 1890 985"/><path d="M1900 1020 L1885 1010"/><path d="M1925 995 L1922 980"/>
</g>
<text class="c" x="1889" y="827">Al-resistant</text>
<text class="c" x="1888.5" y="941.5">SynCom</text>
<text class="c" x="1880" y="1057">transplant</text>
</svg>
</body>
</html>
